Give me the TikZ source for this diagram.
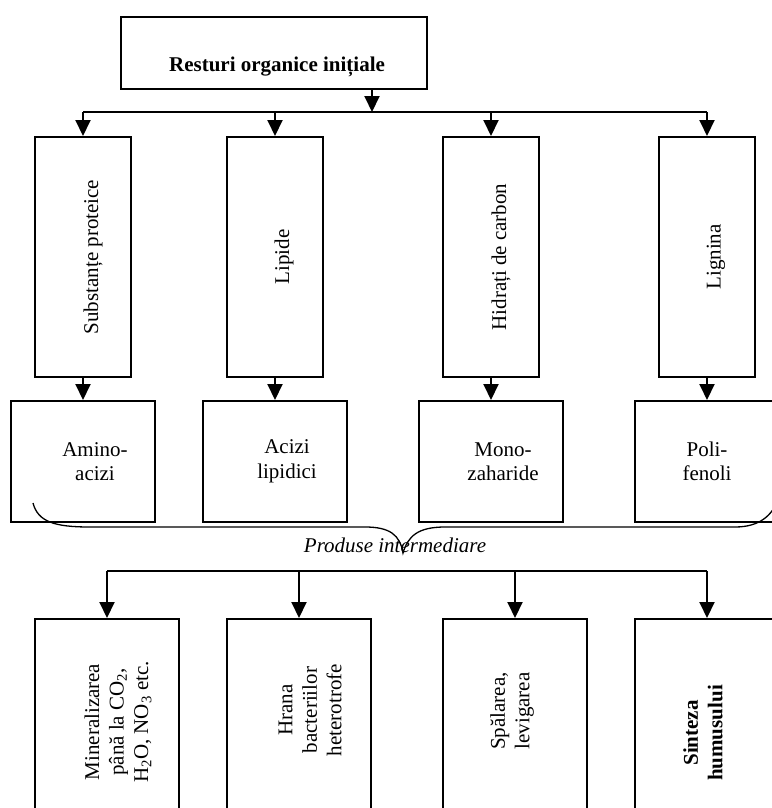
\documentclass[tikz,border=0pt]{standalone}
\usepackage{fontspec}
\setmainfont{Liberation Serif}
\usetikzlibrary{arrows.meta}

\begin{document}
\begin{tikzpicture}[x=1pt,y=-1pt,
	>={Triangle[length=16pt,width=15pt]},
	every node/.style={font=\fontsize{21}{24.5}\selectfont},
	box/.style={draw,line width=2pt,inner sep=0pt},
	topbox/.style={box,minimum width=306pt,minimum height=72pt},
	tallbox/.style={box,minimum width=96pt,minimum height=240pt},
	smallbox/.style={box,minimum width=144pt,minimum height=121pt},
	lowbox/.style={box,minimum width=144pt,minimum height=211pt},
	vtext/.style={rotate=90,align=center},
	link/.style={line width=2pt}]
	\fill[white] (0,0) rectangle (771,808);
	\useasboundingbox (0,0) rectangle (771,808);
	% initial residues
	\node[topbox] (rest) at (274,53) {};
	\node[font=\bfseries\fontsize{21}{24.5}\selectfont] (rest-t) at (277,67) {Resturi organice inițiale};
	\coordinate (split) at (372,112);
	\draw[link,->] (rest.south -| split) -- (split);
	% groups of substances
	\node[tallbox] (sp) at (83,257) {};
	\node[tallbox] (li) at (275,257) {};
	\node[tallbox] (hc) at (491,257) {};
	\node[tallbox] (lg) at (707,257) {};
	\node[vtext] (sp-t) at ([xshift=10pt]sp.center) {Substanțe proteice};
	\node[vtext] (li-t) at ([xshift=9pt]li.center) {Lipide};
	\node[vtext] (hc-t) at ([xshift=10pt]hc.center) {Hidrați de carbon};
	\node[vtext] (lg-t) at ([xshift=9pt]lg.center) {Lignina};
	\draw[link] (sp.north |- split) -- (lg.north |- split);
	\draw[link,->] (sp.north |- split) -- (sp.north);
	\draw[link,->] (li.north |- split) -- (li.north);
	\draw[link,->] (hc.north |- split) -- (hc.north);
	\draw[link,->] (lg.north |- split) -- (lg.north);
	% intermediate products
	\node[smallbox] (aa) at (83,461.5) {};
	\node[smallbox] (al) at (275,461.5) {};
	\node[smallbox] (mz) at (491,461.5) {};
	\node[smallbox] (pf) at (707,461.5) {};
	\node[align=center] (aa-t) at ([xshift=12pt]aa.center) {Amino-\\acizi};
	\node[align=center] (al-t) at ([xshift=12pt]al.center) {Acizi\\lipidici};
	\node[align=center] (mz-t) at ([xshift=12pt]mz.center) {Mono-\\zaharide};
	\node[align=center] (pf-t) at (pf.center) {Poli-\\fenoli};
	\draw[link,->] (sp.south) -- (aa.north);
	\draw[link,->] (li.south) -- (al.north);
	\draw[link,->] (hc.south) -- (mz.north);
	\draw[link,->] (lg.south) -- (pf.north);
	% brace
	\draw[line width=1.3pt] (33,503) .. controls (38,522) and (55,527) .. (90,527) -- (365,527) .. controls (390,527) and (400,535) .. (403,553) .. controls (408,536) and (418,527) .. (445,527) -- (735,527) .. controls (760,527) and (772,515) .. (778,500);
	\node[font=\itshape\fontsize{21}{24.5}\selectfont] (prod) at (395,545) {Produse intermediare};
	% transformations
	\coordinate (merge) at (407,571);
	\node[lowbox] (mn) at (107,724.5) {};
	\node[lowbox] (hb) at (299,724.5) {};
	\node[lowbox] (sl) at (515,724.5) {};
	\node[lowbox] (sh) at (707,724.5) {};
	\node[vtext] (mn-t) at (118,722) {Mineralizarea\\până la CO\textsubscript{2},\\H\textsubscript{2}O, NO\textsubscript{3} etc.};
	\node[vtext] (hb-t) at (310,710) {Hrana\\bacteriilor\\heterotrofe};
	\node[vtext] (sl-t) at (512,711) {Spălarea,\\levigarea};
	\node[vtext,font=\bfseries\fontsize{21}{24.5}\selectfont] (sh-t) at (703,733) {Sinteza\\humusului};
	\draw[link] (mn.north |- merge) -- (sh.north |- merge);
	\draw[link,->] (mn.north |- merge) -- (mn.north);
	\draw[link,->] (hb.north |- merge) -- (hb.north);
	\draw[link,->] (sl.north |- merge) -- (sl.north);
	\draw[link,->] (sh.north |- merge) -- (sh.north);
\end{tikzpicture}
\end{document}
